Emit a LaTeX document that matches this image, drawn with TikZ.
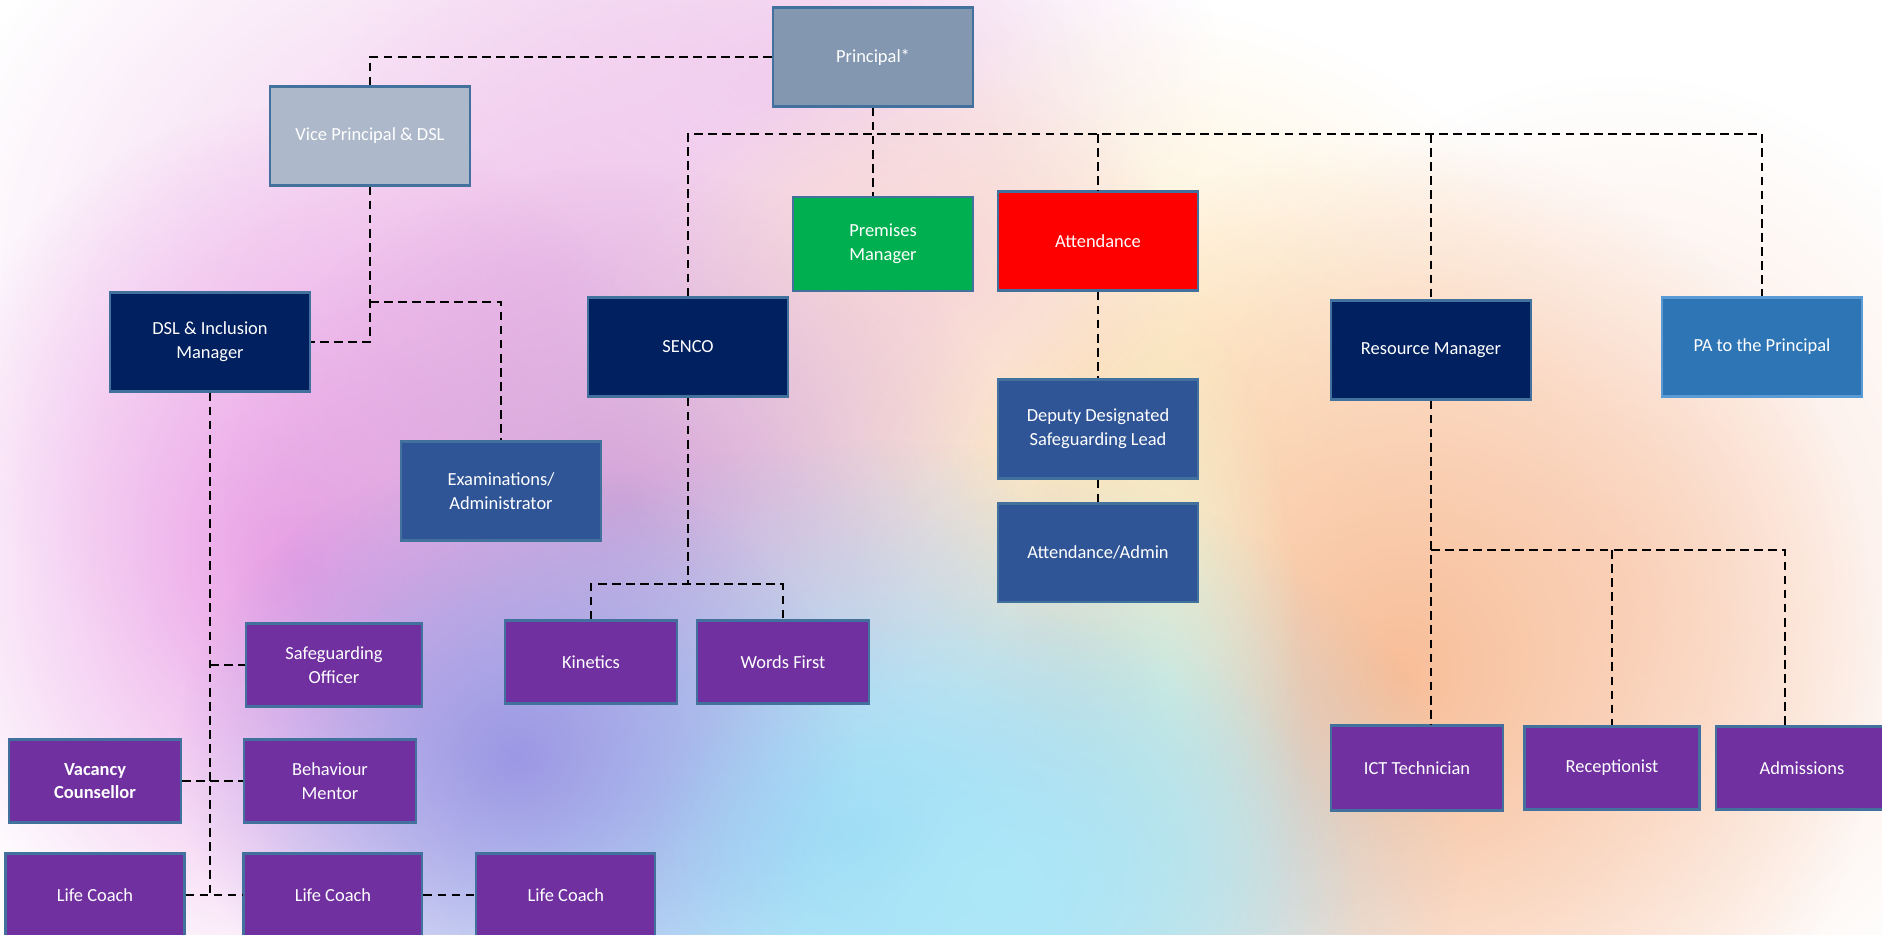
\documentclass[tikz,border=0pt]{standalone}
\usepackage{fontspec}
\setmainfont{Carlito}
\usetikzlibrary{shapes,arrows,fadings}
\definecolor{principalgrey}{HTML}{8497B0}
\definecolor{vicegrey}{HTML}{ADB9CA}
\definecolor{premgreen}{HTML}{00B050}
\definecolor{attred}{HTML}{FF0000}
\definecolor{leadnavy}{HTML}{002060}
\definecolor{pablue}{HTML}{2E75B6}
\definecolor{midblue}{HTML}{2F5597}
\definecolor{staffpurple}{HTML}{7030A0}
\definecolor{boxline}{HTML}{41719C}
\definecolor{paline}{HTML}{5B9BD5}
\tikzfading[name=softblob, inner color=transparent!0, outer color=transparent!100]
\tikzstyle{topbox} = [rectangle, draw=boxline, line width=1.2pt, text=white,
    minimum width=4cm, minimum height=1.98cm, align=center,
    font=\fontsize{10.5}{13.5}\selectfont]
\tikzstyle{staffbox} = [topbox, fill=staffpurple,
    minimum width=3.44cm, minimum height=1.66cm]
\tikzstyle{line} = [draw, line width=1pt, dash pattern=on 5pt off 3pt]
\tikzstyle{blob} = [path fading=softblob]

\begin{document}
\begin{tikzpicture}[x=0.02cm, y=-0.02cm]
    % Background
    \useasboundingbox (0,0) rectangle (1882,934);
    \clip (0,0) rectangle (1882,934);
    \fill [white] (0,0) rectangle (1882,934);
    \fill [blob, color={rgb,255:red,242;green,214;blue,240}] (780,72) ellipse [x radius=8.8cm, y radius=6cm];
    \fill [blob, color={rgb,255:red,240;green,196;blue,236}] (540,276) ellipse [x radius=12.4cm, y radius=10cm];
    \fill [blob, color={rgb,255:red,255;green,236;blue,192}] (1090,420) ellipse [x radius=10.4cm, y radius=8.4cm];
    \fill [blob, color={rgb,255:red,248;green,214;blue,216}] (936,276) ellipse [x radius=5cm, y radius=4cm];
    \fill [blob, color={rgb,255:red,252;green,226;blue,214}] (1620,576) ellipse [x radius=8.8cm, y radius=10cm];
    \fill [blob, color={rgb,255:red,248;green,190;blue,152}] (1400,672) ellipse [x radius=9.6cm, y radius=10.8cm];
    \fill [blob, color={rgb,255:red,240;green,246;blue,212}] (1164,696) ellipse [x radius=2.8cm, y radius=8cm];
    \fill [blob, color={rgb,255:red,234;green,158;blue,230}] (300,564) ellipse [x radius=8cm, y radius=9.2cm];
    \fill [blob, color={rgb,255:red,212;green,164;blue,216}] (624,504) ellipse [x radius=8cm, y radius=6.8cm];
    \fill [blob, color={rgb,255:red,144;green,210;blue,244}] (864,840) ellipse [x radius=12cm, y radius=8cm];
    \fill [blob, color={rgb,255:red,156;green,152;blue,228}] (516,756) ellipse [x radius=6.8cm, y radius=6cm];
    \fill [blob, color={rgb,255:red,172;green,232;blue,248}] (996,888) ellipse [x radius=7.2cm, y radius=5.6cm];

    % Place nodes
    \node [topbox, fill=principalgrey] (principal) at (873,57) {Principal*};
    \node [topbox, fill=vicegrey] (vice) at (370,136) {Vice Principal \& DSL};
    \node [topbox, fill=premgreen, minimum width=3.6cm, minimum height=1.88cm] (premises) at (883,244) {Premises\\Manager};
    \node [topbox, fill=attred] (attend) at (1098,241) {Attendance};
    \node [topbox, fill=leadnavy] (senco) at (688,347) {SENCO};
    \node [topbox, fill=leadnavy] (dsl) at (210,342) {DSL \& Inclusion\\Manager};
    \node [topbox, fill=leadnavy] (resource) at (1431,350) {Resource Manager};
    \node [topbox, fill=pablue, draw=paline] (pa) at (1762,347) {PA to the Principal};
    \node [topbox, fill=midblue] (exams) at (501,491) {Examinations/\\Administrator};
    \node [topbox, fill=midblue, below of=attend, node distance=3.76cm] (deputy) {Deputy Designated\\Safeguarding Lead};
    \node [topbox, fill=midblue, below of=deputy, node distance=2.48cm] (attadmin) {Attendance/Admin};

    \node [staffbox] (kinetics) at (591,662) {Kinetics};
    \node [staffbox, right of=kinetics, node distance=3.84cm] (words) {Words First};
    \node [staffbox, minimum width=3.52cm] (safe) at (334,665) {Safeguarding\\Officer};
    \node [staffbox, below of=safe, node distance=2.32cm, xshift=-0.08cm] (behaviour) {Behaviour\\Mentor};
    \node [staffbox, left of=behaviour, node distance=4.7cm] (vacancy) {\textbf{Vacancy}\\\textbf{Counsellor}};
    \node [staffbox, minimum width=3.58cm] (coach1) at (95,895) {Life Coach};
    \node [staffbox, minimum width=3.58cm, right of=coach1, node distance=4.76cm] (coach2) {Life Coach};
    \node [staffbox, minimum width=3.58cm, right of=coach2, node distance=4.66cm] (coach3) {Life Coach};
    \node [staffbox, minimum height=1.7cm] (ict) at (1417,768) {ICT Technician};
    \node [staffbox, minimum width=3.5cm, right of=ict, node distance=3.9cm] (recep) {Receptionist};
    \node [staffbox, right of=recep, node distance=3.8cm] (admissions) {Admissions};

    \coordinate (bus) at (873,134);
    \coordinate (vicejoin) at (370,302);
    \coordinate (sencojoin) at (688,584);
    \coordinate (resjoin) at (1431,550);

    % Draw edges
    \path [line] (principal.west) -| (vice.north);
    \path [line] (principal.south) -- (principal.south |- premises.north);
    \path [line] (senco.north) |- (pa.north |- bus) -- (pa.north);
    \path [line] (attend.north |- bus) -- (attend.north);
    \path [line] (resource.north |- bus) -- (resource.north);
    \path [line] (vice.south) |- (dsl.east);
    \path [line] (vicejoin) -| (exams.north);
    \path [line] (dsl.south) -- (dsl.south |- coach2.west);
    \path [line] (dsl.south |- safe.west) -- (safe.west);
    \path [line] (vacancy.east) -- (behaviour.west);
    \path [line] (coach1.east) -- (coach2.west);
    \path [line] (coach2.east) -- (coach3.west);
    \path [line] (senco.south) -- (sencojoin);
    \path [line] (kinetics.north) |- (sencojoin) -| (words.north);
    \path [line] (attend.south) -- (deputy.north);
    \path [line] (deputy.south) -- (attadmin.north);
    \path [line] (resource.south) -- (resource.south |- ict.north);
    \path [line] (resjoin) -| ([xshift=-0.34cm]admissions.north);
    \path [line] (recep.north |- resjoin) -- (recep.north);
\end{tikzpicture}
\end{document}
